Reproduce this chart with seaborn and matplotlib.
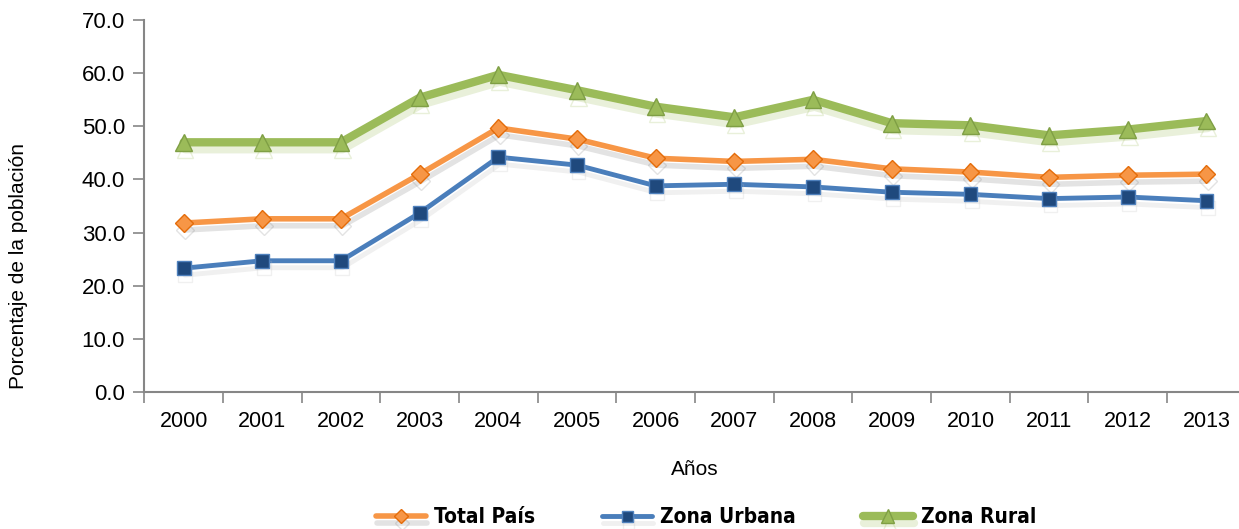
import numpy as np
import pandas as pd
import seaborn as sns
import matplotlib.pyplot as plt
import matplotlib.patheffects as pe

# Datos
anios = [2000, 2001, 2002, 2003, 2004, 2005, 2006, 2007, 2008, 2009, 2010, 2011, 2012, 2013]
total_pais = [31.8, 32.6, 32.6, 41.0, 49.7, 47.6, 44.0, 43.4, 43.8, 42.0, 41.4, 40.4, 40.8, 41.0]
zona_urbana = [23.3, 24.7, 24.7, 33.7, 44.2, 42.7, 38.8, 39.1, 38.6, 37.6, 37.2, 36.4, 36.7, 36.0]
zona_rural = [47.0, 47.0, 47.0, 55.4, 59.7, 56.8, 53.7, 51.7, 55.0, 50.6, 50.2, 48.3, 49.4, 51.0]

sns.set_theme(style="white")
plt.rcParams['font.family'] = ['Liberation Sans', 'DejaVu Sans']
plt.rcParams['text.color'] = 'black'
plt.rcParams['axes.labelcolor'] = 'black'

fig = plt.figure(figsize=(12.39, 5.29), dpi=100)
ax = fig.add_axes([0.1165, 0.259, 0.889, 0.703])

series = [
    ("Total País", total_pais, "#F79646", "D", "#F79646", "#E46C0A", 4.0, 9, "gray"),
    ("Zona Urbana", zona_urbana, "#4A7EBB", "s", "#1F497D", "#4F81BD", 3.5, 10, "#bbbbbb"),
    ("Zona Rural", zona_rural, "#9BBB59", "^", "#9BBB59", "#7F9F45", 6.0, 12, "#9BBB59"),
]

for nombre, valores, color, marker, mface, medge, lw, ms, sombra in series:
    df = pd.DataFrame({"anio": anios, "valor": valores})
    sns.lineplot(data=df, x="anio", y="valor", ax=ax, color=color, lw=lw,
                 marker=marker, markersize=ms, markerfacecolor=mface,
                 markeredgecolor=medge, markeredgewidth=1, label=nombre,
                 path_effects=[pe.SimpleLineShadow(offset=(1, -5), shadow_color=sombra, alpha=0.22),
                               pe.Normal()])

ax.set_xlim(1999.5, 2013.5)
ax.set_ylim(0, 70)
ax.set_yticks(np.arange(0, 71, 10))
ax.set_yticklabels([f"{v:.1f}" for v in np.arange(0, 71, 10)], fontsize=16)
ax.set_xticks(anios)
ax.set_xticklabels([str(a) for a in anios], fontsize=15.5)
ax.set_xticks(np.arange(1999.5, 2014, 1), minor=True)
ax.tick_params(axis='x', which='major', length=0, pad=14, labelcolor='black')
ax.tick_params(axis='x', which='minor', length=8, width=1.2, color='#868686', direction='out', bottom=True)
ax.tick_params(axis='y', length=8, width=1.2, color='#868686', direction='out', left=True, pad=6, labelcolor='black')

for s in ['top', 'right']:
    ax.spines[s].set_visible(False)
for s in ['left', 'bottom']:
    ax.spines[s].set_color('#868686')
    ax.spines[s].set_linewidth(1.5)

ax.set_xlabel("Años", fontsize=15, labelpad=20, color='black')
ax.set_ylabel("Porcentaje de la población", fontsize=15, color='black')
ax.yaxis.set_label_coords(-0.106, 0.34)
ax.grid(False)

handles, labels = ax.get_legend_handles_labels()
ax.legend_.remove()
leg = fig.legend(handles, labels, loc='center', bbox_to_anchor=(0.57, 0.022), ncol=3,
                 frameon=False, handlelength=2.4, columnspacing=3.2, handletextpad=0.4,
                 markerscale=0.8,
                 prop={'family': 'DejaVu Sans', 'stretch': 'condensed', 'weight': 'bold', 'size': 15})

fig.savefig("out.png", dpi=100, facecolor='white')
